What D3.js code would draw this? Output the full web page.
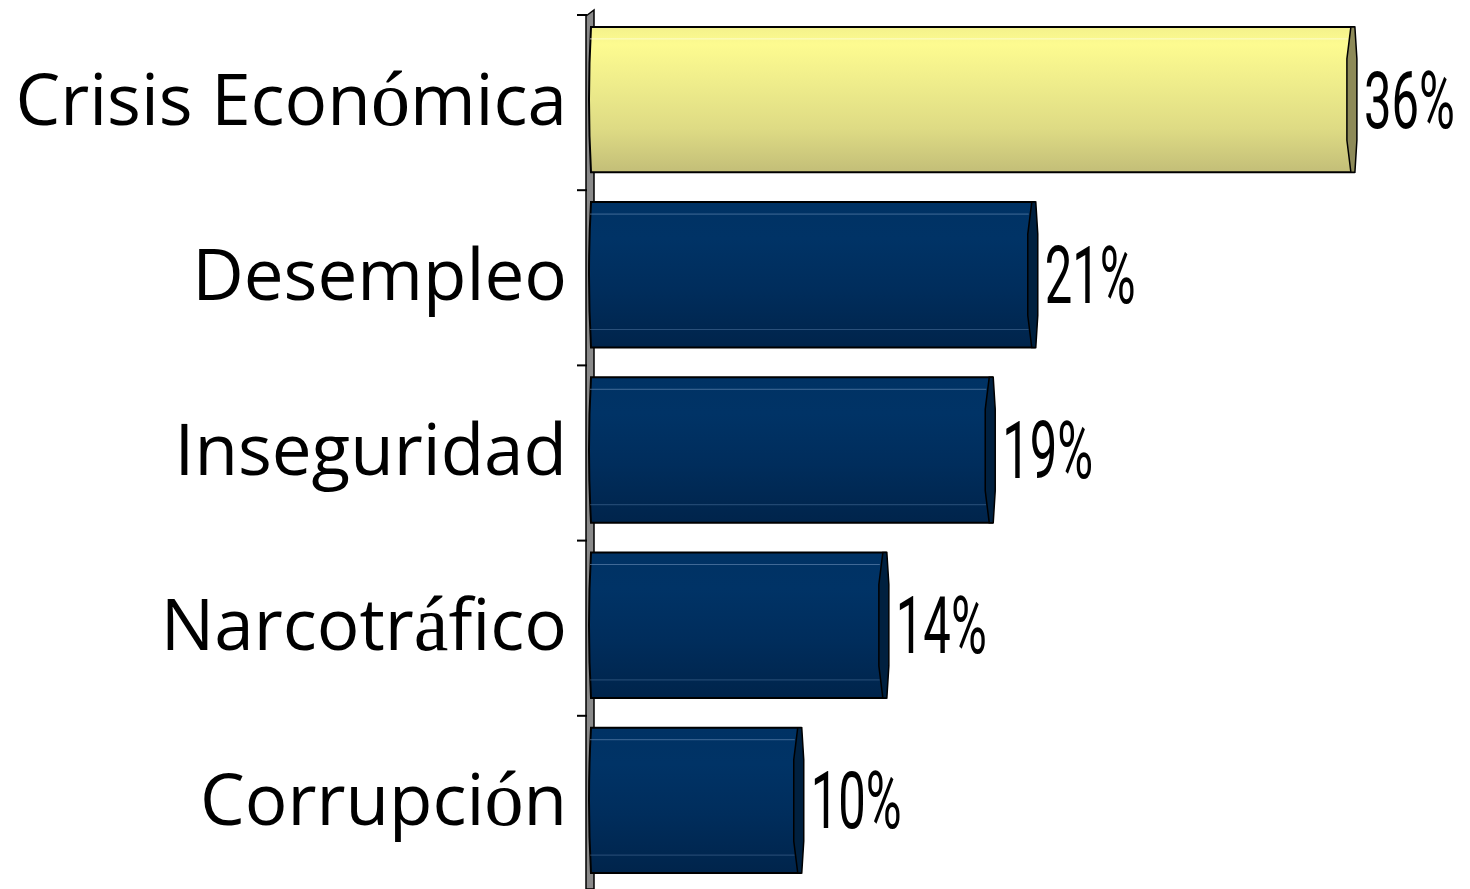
<!DOCTYPE html>
<html>
<head>
<meta charset="utf-8">
<style>
  body { margin: 0; background: #fff; }
  svg { display: block; }
</style>
</head>
<body>
<script src="https://cdn.jsdelivr.net/npm/d3@7"></script>
<script>
// data
var categories = ["Crisis Económica", "Desempleo", "Inseguridad", "Narcotráfico", "Corrupción"];
var values = [36, 21, 19, 14, 10];
var highlighted = ["Crisis Económica"];

var W = 1470, H = 889;

var svg = d3.select("body").append("svg")
    .attr("width", W)
    .attr("height", H);

var defs = svg.append("defs");

// banded gradients (top to bottom), like the office 3D bars
var yellowGrad = defs.append("linearGradient")
    .attr("id", "gYellow").attr("x1", 0).attr("y1", 0).attr("x2", 0).attr("y2", 1);
[[0, "#f3f18c"], [0.12, "#fdfb90"], [0.4, "#eeec8b"], [0.7, "#dedb84"], [1, "#c3be78"]]
  .forEach(function(s) { yellowGrad.append("stop").attr("offset", s[0]).attr("stop-color", s[1]); });

var blueGrad = defs.append("linearGradient")
    .attr("id", "gBlue").attr("x1", 0).attr("y1", 0).attr("x2", 0).attr("y2", 1);
[[0, "#003264"], [0.25, "#003366"], [0.6, "#002d5c"], [1, "#00244b"]]
  .forEach(function(s) { blueGrad.append("stop").attr("offset", s[0]).attr("stop-color", s[1]); });

var x = d3.scaleLinear()
    .domain([0, 40])
    .range([588, 1439]);

var y = d3.scaleBand()
    .domain(categories)
    .range([15, 891])
    .paddingInner(0.17)
    .paddingOuter(0.085);

var lift = -3; // bars sit a bit high in their band

// the grey axis wall
var wallTop = y.range()[0];
svg.append("path")
    .attr("d", "M586," + H + " L586," + (wallTop + 1) + " L594," + (wallTop - 5) + " L594," + H + " Z")
    .attr("fill", "#8a8a8a")
    .attr("stroke", "#000")
    .attr("stroke-width", 1.5);

// tick marks at band boundaries
var step = y.step();
var tickYs = d3.range(categories.length + 1).map(function(i) { return wallTop + i * step; });
svg.append("g").selectAll("line")
    .data(tickYs)
    .enter().append("line")
    .attr("x1", 577).attr("x2", 587)
    .attr("y1", function(d) { return d; })
    .attr("y2", function(d) { return d; })
    .attr("stroke", "#000")
    .attr("stroke-width", 2);

var data = categories.map(function(c, i) {
  return { cat: c, val: values[i], hi: highlighted.indexOf(c) >= 0 };
});

var bars = svg.append("g").selectAll("g.bar")
    .data(data)
    .enter().append("g")
    .attr("class", "bar");

// body of the bar
bars.append("path")
    .attr("d", function(d) {
      var t = y(d.cat) + lift, b = t + y.bandwidth(), m = (t + b) / 2;
      var x0 = x(0), x1 = x(d.val);
      return "M" + (x0 + 3) + "," + t + " L" + x1 + "," + t + " L" + x1 + "," + b +
             " L" + (x0 + 3) + "," + b + " Q" + (x0 - 1) + "," + m + " " + (x0 + 3) + "," + t + " Z";
    })
    .attr("fill", function(d) { return d.hi ? "url(#gYellow)" : "url(#gBlue)"; })
    .attr("stroke", "#000")
    .attr("stroke-width", 2);

// faint highlight lines
bars.append("line")
    .attr("x1", x(0) + 2)
    .attr("x2", function(d) { return x(d.val) - 6; })
    .attr("y1", function(d) { return y(d.cat) + lift + 12; })
    .attr("y2", function(d) { return y(d.cat) + lift + 12; })
    .attr("stroke", function(d) { return d.hi ? "#ffffe8" : "#5d83ad"; })
    .attr("stroke-opacity", 0.7)
    .attr("stroke-width", 1);

bars.filter(function(d) { return !d.hi; }).append("line")
    .attr("x1", x(0) + 2)
    .attr("x2", function(d) { return x(d.val) - 6; })
    .attr("y1", function(d) { return y(d.cat) + lift + y.bandwidth() - 18; })
    .attr("y2", function(d) { return y(d.cat) + lift + y.bandwidth() - 18; })
    .attr("stroke", "#5d83ad")
    .attr("stroke-opacity", 0.45)
    .attr("stroke-width", 1);

// the end cap of the cylinder
bars.append("path")
    .attr("d", function(d) {
      var t = y(d.cat) + lift, h = y.bandwidth(), b = t + h;
      var e = x(d.val);
      return "M" + (e - 3) + "," + t +
             " L" + (e - 7) + "," + (t + h * 0.22) +
             " L" + (e - 7) + "," + (b - h * 0.22) +
             " L" + (e - 3) + "," + b +
             " L" + (e + 1) + "," + b +
             " L" + (e + 3) + "," + (b - h * 0.22) +
             " L" + (e + 3) + "," + (t + h * 0.22) +
             " L" + (e + 1) + "," + t + " Z";
    })
    .attr("fill", function(d) { return d.hi ? "#8d8a58" : "#00203f"; })
    .attr("stroke", "#000")
    .attr("stroke-width", 1.5);

// value labels, condensed look
bars.append("text")
    .attr("transform", function(d) {
      return "translate(" + (x(d.val) + 10) + "," + (y(d.cat) + lift + y.bandwidth() / 2 + 28) + ") scale(0.62,1)";
    })
    .attr("font-family", "Roboto, 'Liberation Sans', sans-serif")
    .attr("font-weight", 400)
    .attr("font-size", 79)
    .attr("fill", "#000")
    .text(function(d) { return d.val + "%"; });

// category labels; accented letters come out in a serif face in the original
var accent = /([áéíóúÁÉÍÓÚ])/;
var labels = svg.append("g").selectAll("text")
    .data(data)
    .enter().append("text")
    .attr("x", 567)
    .attr("y", function(d) { return y(d.cat) + lift + y.bandwidth() / 2 + 25; })
    .attr("text-anchor", "end")
    .attr("font-family", "'Open Sans', 'Noto Sans', sans-serif")
    .attr("font-size", 71)
    .attr("fill", "#000");

labels.each(function(d) {
  var t = d3.select(this);
  d.cat.split(accent).forEach(function(part) {
    if (!part) return;
    var ts = t.append("tspan").text(part);
    if (accent.test(part)) ts.attr("font-family", "'Liberation Serif', 'DejaVu Serif', serif").attr("font-size", 78);
  });
});
</script>
</body>
</html>
